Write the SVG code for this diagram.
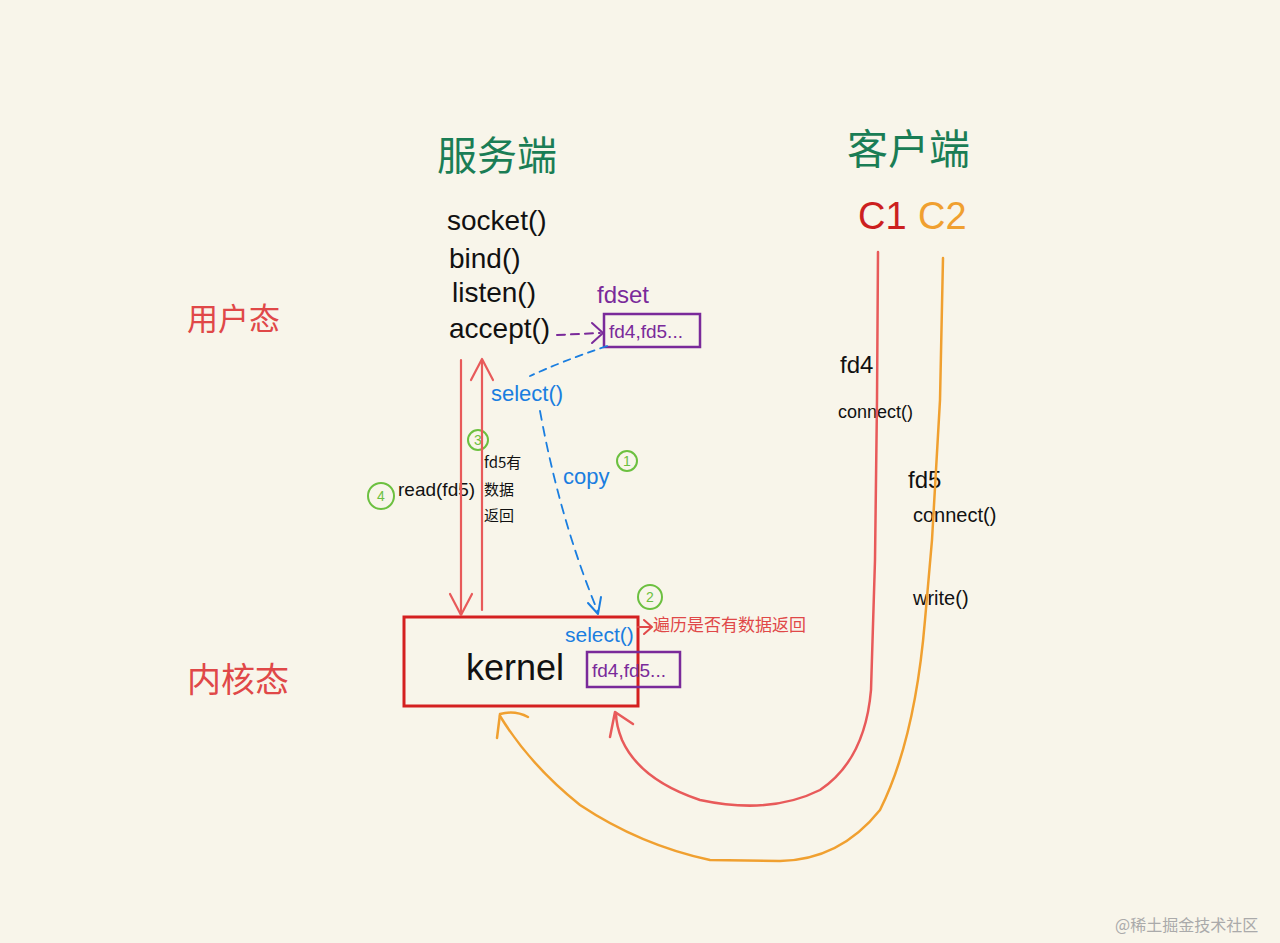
<svg xmlns="http://www.w3.org/2000/svg" width="1280" height="943" viewBox="0 0 1280 943">
<defs>
<style>
.t{font-family:"Liberation Sans","Noto Sans CJK SC",sans-serif}
.cjk{font-family:"Noto Sans CJK SC",sans-serif}
.blk{fill:#111}
.grn{fill:#1a7d55}
.red{fill:#e04848}
.blu{fill:#1a7ee0}
.pur{fill:#7a2a9a}
.circ{fill:none;stroke:#6cc040;stroke-width:2}
.cn{fill:#6cc040;font-size:14px;text-anchor:middle}
.ln{fill:none;stroke-linecap:round;stroke-linejoin:round}
</style>
</defs>
<rect width="1280" height="943" fill="#f8f5ea"/>

<g id="labels-states">
<text class="cjk red" x="187" y="330" font-size="31">用户态</text>
<text class="cjk red" x="187" y="692" font-size="34">内核态</text>
</g>

<g id="server">
<text class="cjk grn" x="437" y="170" font-size="40">服务端</text>
<text class="t blk" x="447" y="230" font-size="28">socket()</text>
<text class="t blk" x="449" y="268" font-size="28">bind()</text>
<text class="t blk" x="452" y="302" font-size="28">listen()</text>
<text class="t blk" x="449" y="338" font-size="28">accept()</text>
</g>

<g id="client">
<text class="cjk grn" x="847" y="164" font-size="41">客户端</text>
<text class="t" x="858" y="229" font-size="38" fill="#cc1f1f">C1</text>
<text class="t" x="918" y="229" font-size="38" fill="#f0a030">C2</text>
<text class="t blk" x="840" y="373" font-size="24">fd4</text>
<text class="t blk" x="838" y="418" font-size="18">connect()</text>
<text class="t blk" x="908" y="488" font-size="24">fd5</text>
<text class="t blk" x="913" y="522" font-size="20">connect()</text>
<text class="t blk" x="913" y="605" font-size="20">write()</text>
</g>

<g id="fdset">
<text class="t pur" x="597" y="303" font-size="24">fdset</text>
<rect x="604" y="314" width="96" height="33" fill="none" stroke="#7a2a9a" stroke-width="2.5"/>
<text class="t pur" x="609" y="338" font-size="19">fd4,fd5...</text>
</g>

<g id="kernel">
<rect x="404" y="617" width="234" height="89" fill="none" stroke="#d42020" stroke-width="3"/>
<text class="t blk" x="466" y="680" font-size="36">kernel</text>
<text class="t blu" x="565" y="642" font-size="21">select()</text>
<rect x="587" y="652" width="93" height="35" fill="none" stroke="#7a2a9a" stroke-width="2.5"/>
<text class="t pur" x="592" y="677" font-size="19">fd4,fd5...</text>
<text class="cjk red" x="653" y="631" font-size="17">遍历是否有数据返回</text>
</g>

<g id="annotations">
<text class="t blu" x="491" y="401" font-size="22">select()</text>
<text class="t blu" x="563" y="484" font-size="22">copy</text>
<circle class="circ" cx="627" cy="461" r="10"/><text class="t cn" x="627" y="466">1</text>
<circle class="circ" cx="650" cy="597" r="12"/><text class="t cn" x="650" y="602">2</text>
<circle class="circ" cx="478" cy="440" r="10"/><text class="t cn" x="478" y="445">3</text>
<circle class="circ" cx="381" cy="496" r="13"/><text class="t cn" x="381" y="501">4</text>
<text class="t blk" x="398" y="496" font-size="19">read(fd5)</text>
<text class="cjk blk" x="484" y="468" font-size="15">fd5有</text>
<text class="cjk blk" x="484" y="495" font-size="15">数据</text>
<text class="cjk blk" x="484" y="521" font-size="15">返回</text>
</g>

<g id="connectors">
<path class="ln" d="M557,335 L600,333" stroke="#7a2a9a" stroke-width="2" stroke-dasharray="8,6"/>
<path class="ln" d="M592,323 L603,333 L592,343" stroke="#7a2a9a" stroke-width="2"/>
<path class="ln" d="M607,346 Q560,362 530,376" stroke="#1a7ee0" stroke-width="1.8" stroke-dasharray="7,6"/>
<path class="ln" d="M540,411 Q560,520 598,612" stroke="#1a7ee0" stroke-width="1.8" stroke-dasharray="9,7"/>
<path class="ln" d="M588,603 L598,614 L601,597" stroke="#1a7ee0" stroke-width="2"/>
<path class="ln" d="M461,360 L461,615" stroke="#e85a5a" stroke-width="2.2"/>
<path class="ln" d="M450,594 L461,615 L472,594" stroke="#e85a5a" stroke-width="2.2"/>
<path class="ln" d="M482,610 L482,360" stroke="#e85a5a" stroke-width="2.2"/>
<path class="ln" d="M471,380 L482,359 L493,380" stroke="#e85a5a" stroke-width="2.2"/>
<path class="ln" d="M638,627 L650,627" stroke="#e04848" stroke-width="2"/>
<path class="ln" d="M644,620 L652,627 L644,634" stroke="#e04848" stroke-width="2"/>
<path class="ln" d="M878,252 L877,400 L875,560 L871,690 Q865,760 820,790 Q770,815 700,800 Q640,780 622,740 Q616,725 616,713" stroke="#e85a5a" stroke-width="2.5"/>
<path class="ln" d="M610,737 L615,712 L633,724" stroke="#e85a5a" stroke-width="2.5"/>
<path class="ln" d="M943,258 L940,400 L932,540 L925,620 Q915,740 880,810 Q840,860 780,861 L710,860 Q640,845 580,805 Q530,765 500,716" stroke="#f0a030" stroke-width="2.5"/>
<path class="ln" d="M497,738 L500,714 Q515,710 528,717" stroke="#f0a030" stroke-width="2.5"/>
</g>

<text class="cjk" x="1115" y="931" font-size="16" fill="#aaa">@稀土掘金技术社区</text>
</svg>
